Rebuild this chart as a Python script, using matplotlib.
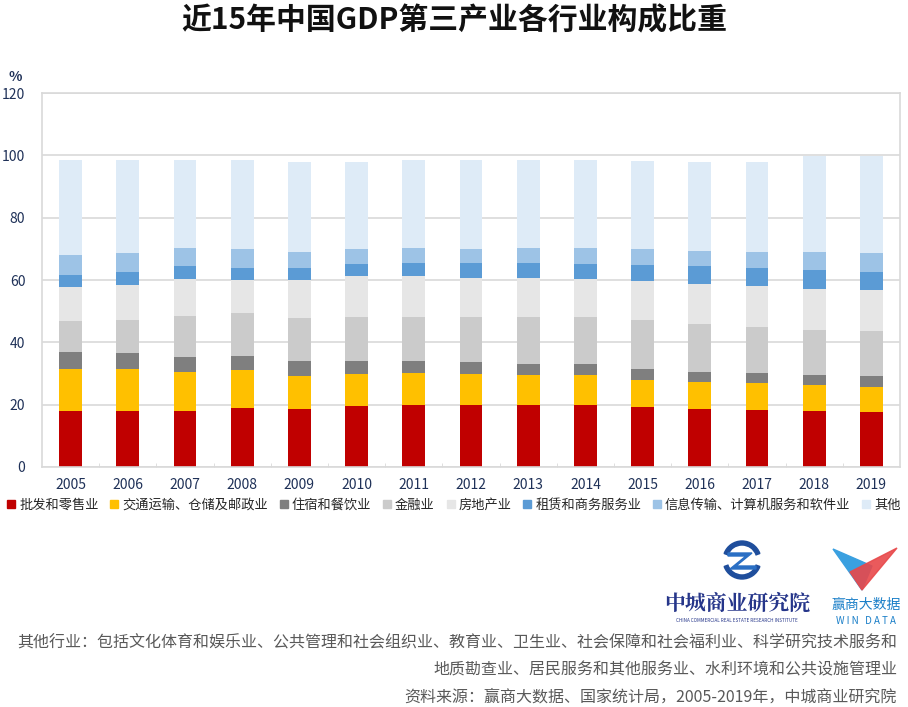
import numpy as np
import matplotlib
matplotlib.use("Agg")
import matplotlib.pyplot as plt
from matplotlib.lines import Line2D
from matplotlib.patches import Polygon, Wedge

plt.rcParams['font.family'] = ['Noto Sans CJK SC', 'DejaVu Sans']

# data (% of tertiary industry GDP)
years = [str(y) for y in range(2005, 2020)]
sectors = ['批发和零售业', '交通运输、仓储及邮政业', '住宿和餐饮业', '金融业',
           '房地产业', '租赁和商务服务业', '信息传输、计算机服务和软件业', '其他']
wholesale = [17.9, 17.9, 17.9, 18.9, 18.5, 19.6, 20.0, 20.0, 20.0, 20.0, 19.1, 18.7, 18.3, 17.9, 17.7]
transport = [13.7, 13.4, 12.7, 12.1, 10.6, 10.2, 10.2, 10.0, 9.4, 9.4, 8.9, 8.5, 8.5, 8.3, 8.0]
hotel = [5.4, 5.2, 4.8, 4.7, 4.8, 4.3, 3.9, 3.8, 3.8, 3.5, 3.4, 3.3, 3.3, 3.4, 3.4]
finance = [9.7, 10.7, 13.0, 13.6, 13.9, 14.1, 14.1, 14.4, 14.8, 15.1, 15.9, 15.5, 14.9, 14.3, 14.5]
real_estate = [11.0, 11.3, 11.8, 10.7, 12.1, 13.0, 13.0, 12.4, 12.7, 12.2, 12.3, 12.6, 13.1, 13.1, 13.1]
leasing = [4.0, 4.1, 4.2, 3.9, 4.0, 4.0, 4.3, 4.7, 4.8, 5.0, 5.3, 5.8, 5.6, 6.1, 6.0]
info_tech = [6.4, 6.2, 5.8, 5.9, 5.2, 4.9, 4.8, 4.8, 4.8, 5.1, 5.0, 5.0, 5.4, 6.0, 6.1]
others = [30.3, 29.6, 28.2, 28.6, 28.8, 27.8, 28.1, 28.3, 28.1, 28.1, 28.2, 28.5, 28.8, 30.6, 30.9]
series = [wholesale, transport, hotel, finance, real_estate, leasing, info_tech, others]

colors = ['#c00000', '#ffc000', '#7f7f7f', '#cbcbcb', '#e6e6e6', '#5b9bd5', '#9dc3e6', '#deebf7']
navy = '#1f3158'
edge = '#d9d9d9'

fig = plt.figure(figsize=(9.08, 7.07), dpi=100)
ax = fig.add_axes([42 / 908, 1 - 467 / 707, 858 / 908, 374 / 707])

x = np.arange(len(years))
bottom = np.zeros(len(years))
for vals, c in zip(series, colors):
    ax.bar(x, vals, width=0.4, bottom=bottom, color=c, zorder=2)
    bottom += np.array(vals)

ax.set_xlim(-0.5, len(years) - 0.5)
ax.set_ylim(0, 120)
ax.set_yticks(range(0, 121, 20))
ax.set_xticks(x)
ax.set_xticklabels(years)
ax.set_xticks(x[:-1] + 0.5, minor=True)
ax.grid(axis='y', color=edge, linewidth=1.2, zorder=0)
for s in ax.spines.values():
    s.set_color(edge)
    s.set_linewidth(1.2)
ax.tick_params(axis='y', length=0, pad=12, labelsize=10, labelcolor=navy)
ax.tick_params(axis='x', which='major', length=0, pad=8, labelsize=10, labelcolor=navy)
ax.tick_params(axis='x', which='minor', direction='in', length=3, color=edge)
fig.text(15 / 908, 1 - 77 / 707, '%', ha='center', va='center', fontsize=10,
         color=navy, fontweight='bold')

fig.text(0.5, 1 - 20 / 707, '近15年中国GDP第三产业各行业构成比重', ha='center', va='center',
         fontsize=21.5, fontweight='bold', color='#111111')

handles = [Line2D([], [], marker='s', linestyle='none', markersize=6,
                  markerfacecolor=c, markeredgecolor=c) for c in colors]
fig.legend(handles, sectors, loc='center', bbox_to_anchor=(0.5, 1 - 505 / 707), ncol=8,
           frameon=False, fontsize=9.5, handlelength=0.6, handletextpad=0.3,
           columnspacing=0.9, labelcolor='#262626')

# logos, drawn in pixel space
ov = fig.add_axes([0, 0, 1, 1], zorder=-1)
ov.set_xlim(0, 908)
ov.set_ylim(707, 0)
ov.axis('off')
ov.add_patch(Wedge((742, 560), 19, 20, 160, width=4, color='#1f4e9c'))
ov.add_patch(Wedge((742, 560), 19, 200, 340, width=4, color='#1f4e9c'))
ov.add_patch(Polygon([(728, 553), (752, 553), (736, 566), (756, 566), (756, 569),
                      (730, 569), (746, 556), (728, 556)], color='#2a6fc4'))
ov.text(737, 604, '中城商业研究院', ha='center', va='center', fontsize=15,
        fontweight='bold', color='#26368a', family=['Noto Serif CJK SC', 'Noto Sans CJK SC'])
ov.text(737, 620, 'CHINA COMMERCIAL REAL ESTATE RESEARCH INSTITUTE', ha='center',
        va='center', fontsize=3.3, color='#26368a')
ov.add_patch(Polygon([(833, 549), (872, 566), (862, 590)], color='#3aa0e0'))
ov.add_patch(Polygon([(897, 548), (862, 590), (850, 572)], color='#e8484a', alpha=0.9))
ov.text(866, 605, '赢商大数据', ha='center', va='center', fontsize=10, color='#1a7fc8')
ov.text(866, 621, 'W I N   D A T A', ha='center', va='center', fontsize=7, color='#1a7fc8')

foot = '#595959'
fig.text(897 / 908, 1 - 643 / 707,
         '其他行业：包括文化体育和娱乐业、公共管理和社会组织业、教育业、卫生业、社会保障和社会福利业、科学研究技术服务和',
         ha='right', va='center', fontsize=11.5, color=foot)
fig.text(897 / 908, 1 - 670 / 707, '地质勘查业、居民服务和其他服务业、水利环境和公共设施管理业',
         ha='right', va='center', fontsize=11.5, color=foot)
fig.text(897 / 908, 1 - 697 / 707, '资料来源：赢商大数据、国家统计局，2005-2019年，中城商业研究院',
         ha='right', va='center', fontsize=11.5, color=foot)

fig.savefig('out.png', dpi=100)
